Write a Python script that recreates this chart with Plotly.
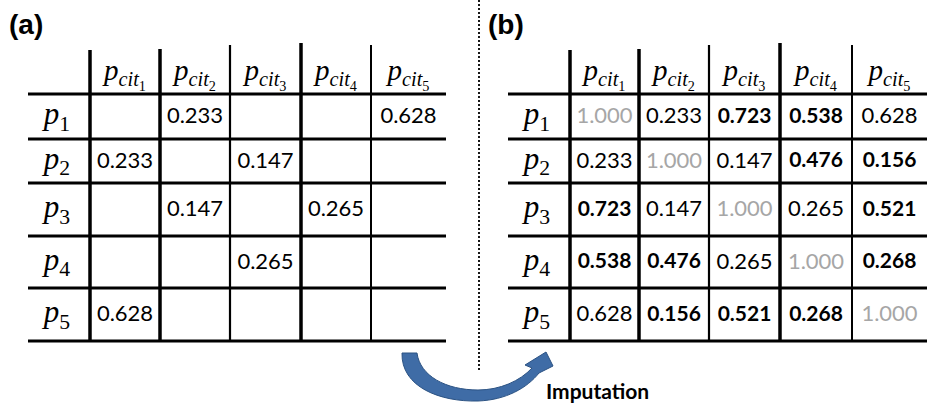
import plotly.graph_objects as go

# ---------------- data ----------------
row_names = ["1", "2", "3", "4", "5"]
col_names = ["1", "2", "3", "4", "5"]

sparse_rows = [
    [None, 0.233, None, None, 0.628],
    [0.233, None, 0.147, None, None],
    [None, 0.147, None, 0.265, None],
    [None, None, 0.265, None, None],
    [0.628, None, None, None, None],
]

imputed_rows = [
    [1.000, 0.233, 0.723, 0.538, 0.628],
    [0.233, 1.000, 0.147, 0.476, 0.156],
    [0.723, 0.147, 1.000, 0.265, 0.521],
    [0.538, 0.476, 0.265, 1.000, 0.268],
    [0.628, 0.156, 0.521, 0.268, 1.000],
]

panel_labels = ["(a)", "(b)"]
arrow_label = "Imputation"

# ---------------- layout constants (pixels) ----------------
W, H = 927, 406
XA = [28, 90, 160, 230, 301, 371, 446]
XB = [508, 570, 639, 709, 780, 852, 927]
YB = [50, 94, 139, 183, 236, 288, 341]
V_TOP = [50, 49, 45, 43, 45]
V_W = [3.5, 3.5, 2.2, 3.5, 2.0]
H_W = 3.2

fig = go.Figure()
shapes = []

def centers(b):
    return [(b[i] + b[i + 1]) / 2 for i in range(len(b) - 1)]

def draw_table(xb, values, imputed):
    xc = centers(xb)
    yc = centers(YB)
    # horizontal lines
    for y in YB[1:]:
        shapes.append(dict(type="line", xref="x", yref="y", x0=xb[0], x1=xb[-1],
                           y0=y, y1=y, line=dict(color="black", width=H_W)))
    # vertical lines
    for k, x in enumerate(xb[1:-1]):
        shapes.append(dict(type="line", xref="x", yref="y", x0=x, x1=x,
                           y0=V_TOP[k], y1=YB[-1], line=dict(color="black", width=V_W[k])))
    # column headers
    fig.add_trace(go.Scatter(
        x=xc[1:], y=[yc[0] + 1] * len(col_names), mode="text",
        text=["<i>p</i><sub><i>cit</i><sub>%s</sub></sub>" % c for c in col_names],
        textposition="middle center",
        textfont=dict(family="Liberation Serif", size=29, color="black"),
        hoverinfo="skip", showlegend=False))
    # row labels
    fig.add_trace(go.Scatter(
        x=[xc[0] - 2] * len(row_names), y=yc[1:], mode="text",
        text=["<i>p</i><sub>%s</sub>" % r for r in row_names],
        textposition="middle center",
        textfont=dict(family="Liberation Serif", size=31, color="black"),
        hoverinfo="skip", showlegend=False))
    # values
    groups = {"normal": ([], [], []), "bold": ([], [], []), "diag": ([], [], [])}
    for i, row in enumerate(values):
        for j, v in enumerate(row):
            if v is None:
                continue
            if imputed and i == j:
                g = "diag"
            elif imputed and sparse_rows[i][j] is None:
                g = "bold"
            else:
                g = "normal"
            groups[g][0].append(xc[j + 1])
            groups[g][1].append(yc[i + 1] + 1)
            txt = "%.3f" % v
            groups[g][2].append("<b>%s</b>" % txt if g == "bold" else txt)
    colors = {"normal": "black", "bold": "black", "diag": "#a6a6a6"}
    sizes = {"normal": 22, "bold": 21, "diag": 22}
    for g, (xs, ys, ts) in groups.items():
        if not xs:
            continue
        fig.add_trace(go.Scatter(
            x=xs, y=ys, text=ts, mode="text", textposition="middle center",
            textfont=dict(family="Lato", size=sizes[g], color=colors[g]),
            hoverinfo="skip", showlegend=False))

draw_table(XA, sparse_rows, False)
draw_table(XB, imputed_rows, True)

# dotted separator
shapes.append(dict(type="line", xref="x", yref="y", x0=479, x1=479, y0=0, y1=372,
                   line=dict(color="black", width=1.8, dash="2px,2px")))

# curved arrow
arrow_path = ("M 402 353 C 401 387, 440 402, 478 401 "
              "C 506 400, 527 388, 539 373 "
              "L 553 366 L 546 352 L 525 365 L 532 368 "
              "C 520 381, 500 390, 478 390 "
              "C 446 390, 420 376, 417 353 Z")
shapes.append(dict(type="path", xref="x", yref="y", path=arrow_path,
                   fillcolor="#3f6ca6", line=dict(color="#2b5283", width=1)))

annotations = [
    dict(x=26, y=24, xref="x", yref="y", text="<b>%s</b>" % panel_labels[0], showarrow=False,
         font=dict(family="Liberation Sans", size=28, color="black"), xanchor="center", yanchor="middle"),
    dict(x=506, y=24, xref="x", yref="y", text="<b>%s</b>" % panel_labels[1], showarrow=False,
         font=dict(family="Liberation Sans", size=28, color="black"), xanchor="center", yanchor="middle"),
    dict(x=597, y=390, xref="x", yref="y", text="<b>%s</b>" % arrow_label, showarrow=False,
         font=dict(family="Lato", size=21, color="black"), xanchor="center", yanchor="middle"),
]

fig.update_layout(
    width=W, height=H, margin=dict(l=0, r=0, t=0, b=0),
    paper_bgcolor="white", plot_bgcolor="white",
    xaxis=dict(range=[0, W], visible=False, fixedrange=True),
    yaxis=dict(range=[H, 0], visible=False, fixedrange=True),
    shapes=shapes, annotations=annotations,
)

fig.write_html("out.html")
